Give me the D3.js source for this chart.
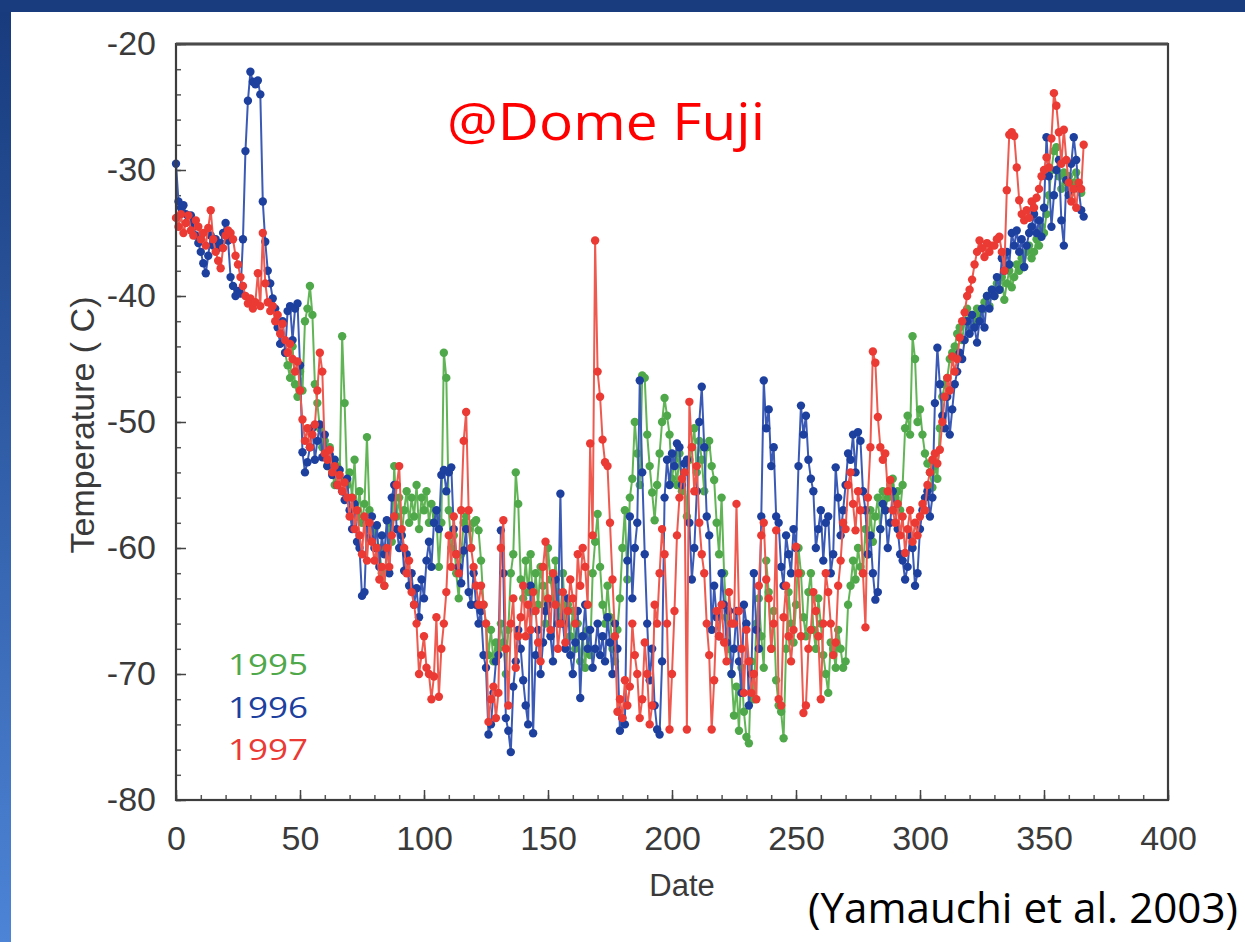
<!DOCTYPE html>
<html><head><meta charset="utf-8">
<script src="https://cdn.jsdelivr.net/npm/d3@7"></script>
<style>html,body{margin:0;padding:0;background:#fff;overflow:hidden}</style>
</head><body>
<svg id="c" width="1245" height="942"></svg>
<script>
// ---- data ----
const xTickValues = [0, 50, 100, 150, 200, 250, 300, 350, 400];
const yTickValues = [-80, -70, -60, -50, -40, -30, -20];
const seriesNames = ["1995", "1996", "1997"];
const seriesColors = ["#4fa84a", "#1d3f9e", "#ea3a33"];
const lineColors = ["#62b556", "#3a5ab5", "#ee5a4f"];

const startDay1995 = 44;
const temps1995 = [
-44.5,-45.5,-46.5,-44.0,-47.0,-48.0,
-46.0,-47.5,-42.0,-41.0,-39.2,-41.5,-47.0,-48.5,-50.5,-52.0,
-51.5,-53.5,-52.0,-54.0,-55.0,-53.5,-54.5,-43.2,-48.5,-55.0,
-54.0,-56.0,-53.0,-57.5,-55.5,-58.0,-56.5,-51.2,-57.0,-59.0,
-58.5,-61.0,-60.0,-62.0,-63.0,-60.5,-58.0,-59.5,-53.5,-57.5,
-56.0,-59.0,-57.0,-55.5,-58.0,-56.0,-57.5,-55.0,-58.5,-56.0,
-57.0,-55.5,-58.0,-56.5,-58.0,-57.5,-61.5,-58.0,-44.5,-46.5,
-57.0,-60.0,-59.0,-62.0,-64.0,-60.5,-58.0,-57.5,-58.5,-60.0,
-58.0,-57.8,-58.6,-61.0,-64.5,-66.0,-68.5,-66.5,-69.0,-67.5,
-68.0,-66.0,-67.5,-70.0,-66.5,-62.0,-60.5,-54.0,-56.5,-62.5,
-64.0,-61.0,-63.5,-60.5,-65.0,-62.0,-64.5,-61.5,-63.0,-66.0,
-60.0,-62.5,-64.0,-61.0,-63.5,-65.5,-62.0,-66.0,-64.5,-67.0,
-65.0,-68.0,-66.0,-69.0,-67.0,-69.5,-66.5,-68.5,-62.0,-59.5,
-57.3,-61.5,-64.5,-66.0,-63.0,-65.5,-68.0,-69.0,-66.5,-64.0,
-60.0,-57.0,-62.5,-56.0,-54.5,-50.0,-52.5,-55.0,-46.3,-46.5,
-51.0,-53.5,-55.6,-57.8,-55.0,-52.5,-50.0,-48.1,-49.5,-51.0,
-54.5,-53.0,-55.0,-52.5,-55.5,-54.0,-57.5,-53.0,-52.0,-50.5,
-54.0,-51.5,-53.0,-55.5,-52.0,-51.5,-53.5,-54.6,-58.0,-60.5,
-56.0,-62.0,-65.5,-68.0,-70.0,-73.3,-71.0,-74.5,-69.5,-73.0,
-75.0,-75.5,-69.0,-72.0,-66.0,-64.0,-67.0,-69.5,-61.0,-63.5,
-68.0,-65.0,-70.5,-72.5,-73.0,-75.1,-68.0,-63.5,-66.0,-67.5,
-64.5,-60.0,-62.0,-65.5,-67.0,-63.5,-62.0,-66.5,-68.0,-64.0,
-66.0,-68.5,-70.0,-71.5,-67.5,-68.0,-69.5,-66.5,-68.0,-69.5,
-69.0,-64.5,-63.0,-61.0,-62.5,-60.0,-61.5,-62.0,-58.5,-60.5,
-57.0,-59.5,-57.5,-56.0,-58.5,-55.5,-57.0,-56.0,-55.0,-54.5,
-56.0,-55.5,-57.0,-55.0,-50.5,-49.5,-51.0,-43.2,-45.0,-50.0,
-49.0,-51.0,-52.5,-53.3,-54.0,-55.2,-53.5,-54.5,-50.5,-48.0,
-47.0,-46.5,-45.0,-44.5,-44.0,-43.0,-42.5,-43.5,-42.0,-41.0,
-42.5,-41.5,-42.0,-41.0,-41.5,-41.1,-40.5,-40.0,-40.8,-39.5,
-40.0,-39.0,-39.5,-38.5,-40.3,-39.0,-38.0,-39.3,-38.5,-37.5,
-38.0,-37.0,-37.7,-36.5,-36.0,-37.0,-36.5,-35.5,-36.0,-34.5,
-35.0,-33.5,-32.0,-30.0,-28.5,-28.2,-30.5,-31.5,-30.2,-31.0,
-30.5,-31.8,-31.0,-30.2,-31.5,-31.8
];

const startDay1996 = 0;
const temps1996 = [
-29.5,-32.5,-33.0,-32.8,-33.5,-34.0,-33.6,-34.5,-35.2,-35.8,
-36.5,-37.4,-38.2,-36.8,-35.2,-36.0,-35.5,-36.2,-35.8,-35.0,
-34.2,-35.6,-38.5,-39.2,-40.0,-39.6,-39.8,-35.5,-28.5,-24.5,
-22.2,-23.0,-23.2,-22.9,-24.0,-32.5,-35.7,-38.0,-39.0,-40.2,
-41.0,-42.5,-43.8,-42.0,-44.5,-41.2,-40.8,-43.5,-41.0,-40.6,
-45.5,-52.4,-54.0,-53.2,-52.0,-50.5,-53.0,-51.5,-50.2,-52.8,
-51.0,-53.5,-52.6,-54.2,-53.0,-55.0,-53.8,-55.5,-56.2,-54.5,
-57.0,-58.5,-56.5,-59.5,-60.0,-63.8,-63.5,-58.0,-59.2,-57.5,
-60.0,-58.2,-61.5,-59.0,-60.5,-57.8,-62.0,-56.0,-55.0,-58.5,
-60.0,-59.0,-61.8,-60.5,-63.0,-62.0,-64.5,-63.2,-65.5,-62.5,
-64.0,-61.0,-59.5,-61.5,-58.0,-57.0,-58.5,-54.2,-53.8,-55.5,
-54.0,-53.6,-58.5,-60.5,-61.5,-62.8,-60.2,-58.5,-63.5,-64.5,
-62.0,-64.5,-66.0,-65.0,-68.5,-69.5,-74.8,-74.0,-71.5,-69.0,
-68.5,-58.6,-62.0,-73.5,-74.5,-76.2,-71.0,-69.0,-66.5,-68.0,
-70.5,-72.5,-74.0,-63.0,-74.7,-68.5,-66.5,-70.0,-67.5,-65.0,
-64.5,-67.0,-69.0,-62.5,-66.0,-55.7,-66.0,-68.0,-64.0,-68.5,
-70.0,-67.5,-65.0,-71.9,-67.0,-64.5,-68.0,-66.5,-69.5,-68.0,
-66.0,-68.5,-67.0,-69.0,-65.5,-67.5,-70.0,-66.0,-68.0,-74.5,
-73.5,-74.0,-61.0,-57.5,-64.0,-60.0,-58.0,-46.7,-54.0,-60.5,
-66.0,-70.5,-68.0,-72.5,-74.4,-74.8,-69.0,-56.0,-53.0,-55.0,
-52.5,-53.5,-51.7,-52.0,-55.0,-53.3,-53.0,-58.0,-62.5,-60.0,
-55.5,-50.0,-47.2,-52.0,-57.5,-59.0,-66.5,-63.0,-65.5,-67.0,
-62.0,-64.5,-67.5,-65.0,-70.0,-68.0,-65.0,-69.0,-71.5,-64.5,
-66.0,-72.5,-70.0,-62.0,-66.5,-68.0,-57.5,-46.7,-50.5,-49.0,
-53.5,-52.0,-57.5,-58.0,-61.5,-63.0,-59.0,-60.5,-62.0,-58.5,
-60.0,-53.5,-48.7,-51.0,-49.5,-53.0,-54.5,-55.5,-60.0,-58.5,
-57.0,-61.0,-58.0,-57.5,-62.0,-60.5,-53.6,-56.0,-59.0,-57.0,
-55.0,-52.5,-53.0,-51.0,-54.0,-50.8,-51.5,-55.5,-57.0,-60.5,
-59.0,-62.0,-64.1,-63.5,-58.5,-56.5,-57.0,-60.0,-58.0,-55.5,
-57.0,-58.5,-60.5,-61.0,-62.5,-61.5,-59.0,-60.0,-63.0,-62.0,
-58.5,-57.0,-56.0,-55.5,-57.5,-56.0,-48.5,-44.1,-47.0,-49.5,
-50.5,-48.0,-51.0,-49.0,-47.0,-46.0,-44.5,-45.0,-43.5,-42.0,
-43.0,-41.5,-42.5,-43.7,-42.0,-41.0,-42.5,-40.0,-41.0,-39.5,
-40.0,-38.5,-39.5,-37.0,-38.0,-36.5,-37.5,-35.0,-36.0,-34.8,
-36.5,-35.5,-37.7,-36.0,-35.0,-34.5,-33.5,-35.0,-34.0,-35.3,
-33.0,-27.4,-30.5,-34.5,-32.0,-30.0,-29.2,-34.0,-36.0,-30.8,
-32.0,-29.5,-27.4,-29.2,-31.5,-33.2,-33.7
];

const startDay1997 = 0;
const temps1997 = [
-33.8,-34.5,-33.5,-35.0,-34.2,-33.6,-34.8,-35.2,-34.0,-34.5,
-35.5,-35.0,-36.0,-34.6,-33.2,-35.5,-36.5,-37.2,-37.8,-36.2,
-35.2,-34.8,-35.0,-35.5,-36.8,-37.5,-38.5,-39.2,-40.0,-40.6,
-40.2,-41.0,-40.5,-38.2,-40.8,-35.0,-39.0,-40.5,-41.2,-40.8,
-42.0,-41.5,-43.0,-42.2,-43.5,-44.5,-43.8,-45.0,-46.0,-45.2,
-47.5,-49.8,-51.5,-50.5,-52.0,-51.0,-50.2,-47.5,-44.5,-46.0,
-52.5,-53.0,-52.2,-54.0,-53.5,-55.0,-54.2,-55.5,-54.8,-56.0,
-57.5,-56.0,-58.5,-57.0,-59.0,-60.5,-57.5,-61.0,-58.0,-59.5,
-61.0,-60.0,-62.5,-61.5,-63.0,-60.0,-61.5,-59.0,-57.5,-55.0,
-53.5,-58.5,-60.0,-62.0,-61.0,-63.5,-64.5,-66.0,-70.0,-68.5,
-67.0,-69.5,-70.0,-72.0,-70.2,-65.5,-71.8,-68.0,-66.0,-63.5,
-59.0,-61.5,-57.5,-60.5,-62.0,-57.0,-51.5,-49.2,-57.0,-60.0,
-61.5,-63.0,-64.5,-63.0,-64.5,-66.0,-73.8,-72.0,-71.0,-73.5,
-71.5,-60.0,-57.8,-68.0,-72.5,-66.0,-64.0,-69.5,-67.0,-65.5,
-63.0,-67.0,-64.5,-66.5,-63.5,-65.0,-67.5,-69.0,-61.5,-59.5,
-64.0,-66.5,-62.0,-64.5,-68.0,-66.0,-63.5,-67.5,-65.0,-62.5,
-64.0,-66.0,-60.5,-63.0,-60.0,-61.5,-64.5,-51.7,-59.0,-35.6,
-46.0,-48.0,-51.4,-53.2,-53.5,-58.0,-62.5,-67.0,-73.0,-72.0,
-73.5,-70.5,-72.5,-71.0,-66.0,-68.5,-70.0,-73.5,-72.0,-67.5,
-70.0,-74.0,-72.5,-64.5,-66.0,-62.0,-58.5,-60.5,-66.0,-74.4,
-70.0,-65.0,-59.0,-56.0,-54.5,-54.0,-74.4,-48.4,-52.0,-55.5,
-53.5,-58.0,-60.5,-62.0,-66.0,-68.5,-74.4,-70.5,-65.0,-67.0,
-64.5,-67.5,-69.0,-63.5,-66.0,-66.0,-56.5,-65.0,-68.0,-71.5,
-66.5,-69.0,-71.5,-70.0,-72.0,-63.0,-59.0,-58.0,-62.5,-64.0,
-68.0,-66.0,-58.6,-72.0,-72.5,-65.5,-63.0,-67.0,-69.0,-66.5,
-59.9,-62.0,-67.0,-73.1,-72.5,-68.0,-66.5,-63.5,-65.0,-67.0,
-72.0,-66.0,-62.0,-63.5,-66.0,-68.5,-67.5,-63.0,-61.0,-58.0,
-58.5,-55.0,-54.0,-56.5,-58.6,-55.5,-57.0,-62.0,-66.3,-56.0,
-52.0,-44.4,-45.3,-49.6,-52.0,-53.0,-52.5,-55.5,-54.6,-57.0,
-58.0,-56.5,-59.0,-57.5,-60.4,-58.5,-57.0,-59.5,-58.0,-59.0,
-57.5,-56.5,-57.0,-55.0,-54.0,-53.0,-52.5,-53.3,-52.2,-50.0,
-48.0,-46.5,-47.5,-44.8,-46.0,-45.0,-43.3,-42.0,-41.3,-40.0,
-39.5,-38.7,-37.5,-36.5,-35.6,-36.2,-36.9,-35.8,-36.5,-36.0,
-36.0,-35.5,-35.3,-36.5,-38.0,-31.6,-27.2,-27.0,-27.3,-29.8,
-32.4,-33.5,-34.0,-33.2,-33.8,-32.5,-33.0,-32.2,-31.5,-30.5,
-30.0,-29.0,-29.8,-27.5,-23.9,-24.9,-27.0,-29.5,-26.8,-29.2,
-31.0,-32.5,-31.5,-33.0,-31.0,-31.5,-28.0
];

const seriesTemps = [temps1995, temps1996, temps1997];
const seriesStarts = [startDay1995, startDay1996, startDay1997];

// ---- drawing ----
const W = 1245, H = 942;
const svg = d3.select("#c");
const defs = svg.append("defs");
const grad = defs.append("linearGradient").attr("id", "sideGrad")
  .attr("x1", 0).attr("y1", 0).attr("x2", 0).attr("y2", 1);
grad.append("stop").attr("offset", "0%").attr("stop-color", "#173a7c");
grad.append("stop").attr("offset", "100%").attr("stop-color", "#4d84d6");

svg.append("rect").attr("width", W).attr("height", H).attr("fill", "#ffffff");

const x = d3.scaleLinear().domain([0, 400]).range([176, 1168]);
const y = d3.scaleLinear().domain([-80, -20]).range([800, 44]);

const tickFont = "'Liberation Sans', Arial, sans-serif";

// minor ticks
svg.append("g").attr("transform", `translate(0,${y(-80)})`)
  .call(d3.axisBottom(x).tickValues(d3.range(0, 401, 10)).tickSize(-5).tickFormat(""))
  .call(g => g.select(".domain").remove())
  .call(g => g.selectAll("line").attr("stroke", "#555").attr("stroke-width", 1.5));
svg.append("g").attr("transform", `translate(${x(0)},0)`)
  .call(d3.axisLeft(y).tickValues(d3.range(-80, -19, 2)).tickSize(-5).tickFormat(""))
  .call(g => g.select(".domain").remove())
  .call(g => g.selectAll("line").attr("stroke", "#555").attr("stroke-width", 1.5));

// major ticks + labels
svg.append("g").attr("transform", `translate(0,${y(-80)})`)
  .call(d3.axisBottom(x).tickValues(xTickValues).tickSize(-10).tickPadding(26).tickFormat(d3.format("d")))
  .call(g => g.select(".domain").remove())
  .call(g => g.selectAll("line").attr("stroke", "#444").attr("stroke-width", 1.5))
  .call(g => g.selectAll("text").attr("font-family", tickFont).attr("font-size", 34)
    .attr("fill", "#3a3a3a"));
svg.append("g").attr("transform", `translate(${x(0)},0)`)
  .call(d3.axisLeft(y).tickValues(yTickValues).tickSize(-10).tickPadding(20)
    .tickFormat(d => d3.format("d")(d).replace("−", "-")))
  .call(g => g.select(".domain").remove())
  .call(g => g.selectAll("line").attr("stroke", "#444").attr("stroke-width", 1.5))
  .call(g => g.selectAll("text").attr("font-family", tickFont).attr("font-size", 34)
    .attr("fill", "#3a3a3a"));

// series
const line = d3.line().x(d => x(d.day)).y(d => y(d.t));
seriesTemps.forEach((arr, i) => {
  const pts = arr.map((t, k) => ({ day: seriesStarts[i] + k, t }));
  const g = svg.append("g").attr("class", "series s" + seriesNames[i]);
  g.append("path").datum(pts).attr("d", line).attr("fill", "none")
    .attr("stroke", lineColors[i]).attr("stroke-width", 2);
  g.selectAll("circle").data(pts).join("circle")
    .attr("cx", d => x(d.day)).attr("cy", d => y(d.t)).attr("r", 4.2)
    .attr("fill", seriesColors[i]);
});

// frame
svg.append("rect").attr("x", x(0)).attr("y", y(-20))
  .attr("width", x(400) - x(0)).attr("height", y(-80) - y(-20))
  .attr("fill", "none").attr("stroke", "#3d3d3d").attr("stroke-width", 2.2);
svg.append("line").attr("x1", x(0)).attr("x2", x(400)).attr("y1", y(-20)).attr("y2", y(-20))
  .attr("stroke", "#4a4a4a").attr("stroke-width", 3);

// axis titles
svg.append("text").attr("x", 682).attr("y", 896).attr("text-anchor", "middle")
  .attr("font-family", tickFont).attr("font-size", 31).attr("fill", "#3a3a3a").text("Date");
svg.append("text").attr("transform", "translate(94,425) rotate(-90)").attr("text-anchor", "middle")
  .attr("font-family", tickFont).attr("font-size", 34).attr("fill", "#3a3a3a").text("Temperature ( C)");

// legend
const legendY = [675, 718, 760];
seriesNames.forEach((n, i) => {
  svg.append("text").attr("x", 228).attr("y", legendY[i])
    .attr("font-family", "'Open Sans', sans-serif").attr("font-size", 30)
    .attr("textLength", 80).attr("lengthAdjust", "spacingAndGlyphs")
    .attr("fill", seriesColors[i]).text(n);
});

// title & citation
svg.append("text").attr("x", 447).attr("y", 140)
  .attr("font-family", "'Open Sans', sans-serif").attr("font-size", 52)
  .attr("textLength", 318).attr("lengthAdjust", "spacingAndGlyphs")
  .attr("fill", "#ff0000").text("@Dome Fuji");
svg.append("text").attr("x", 808).attr("y", 923)
  .attr("font-family", "'Open Sans', sans-serif").attr("font-size", 42)
  .attr("textLength", 430).attr("lengthAdjust", "spacingAndGlyphs")
  .attr("fill", "#000").text("(Yamauchi et al. 2003)");

// slide border
svg.append("rect").attr("x", 0).attr("y", 0).attr("width", 11).attr("height", H).attr("fill", "url(#sideGrad)");
svg.append("rect").attr("x", 0).attr("y", 0).attr("width", W).attr("height", 12).attr("fill", "#183c7e");
</script>
</body></html>
